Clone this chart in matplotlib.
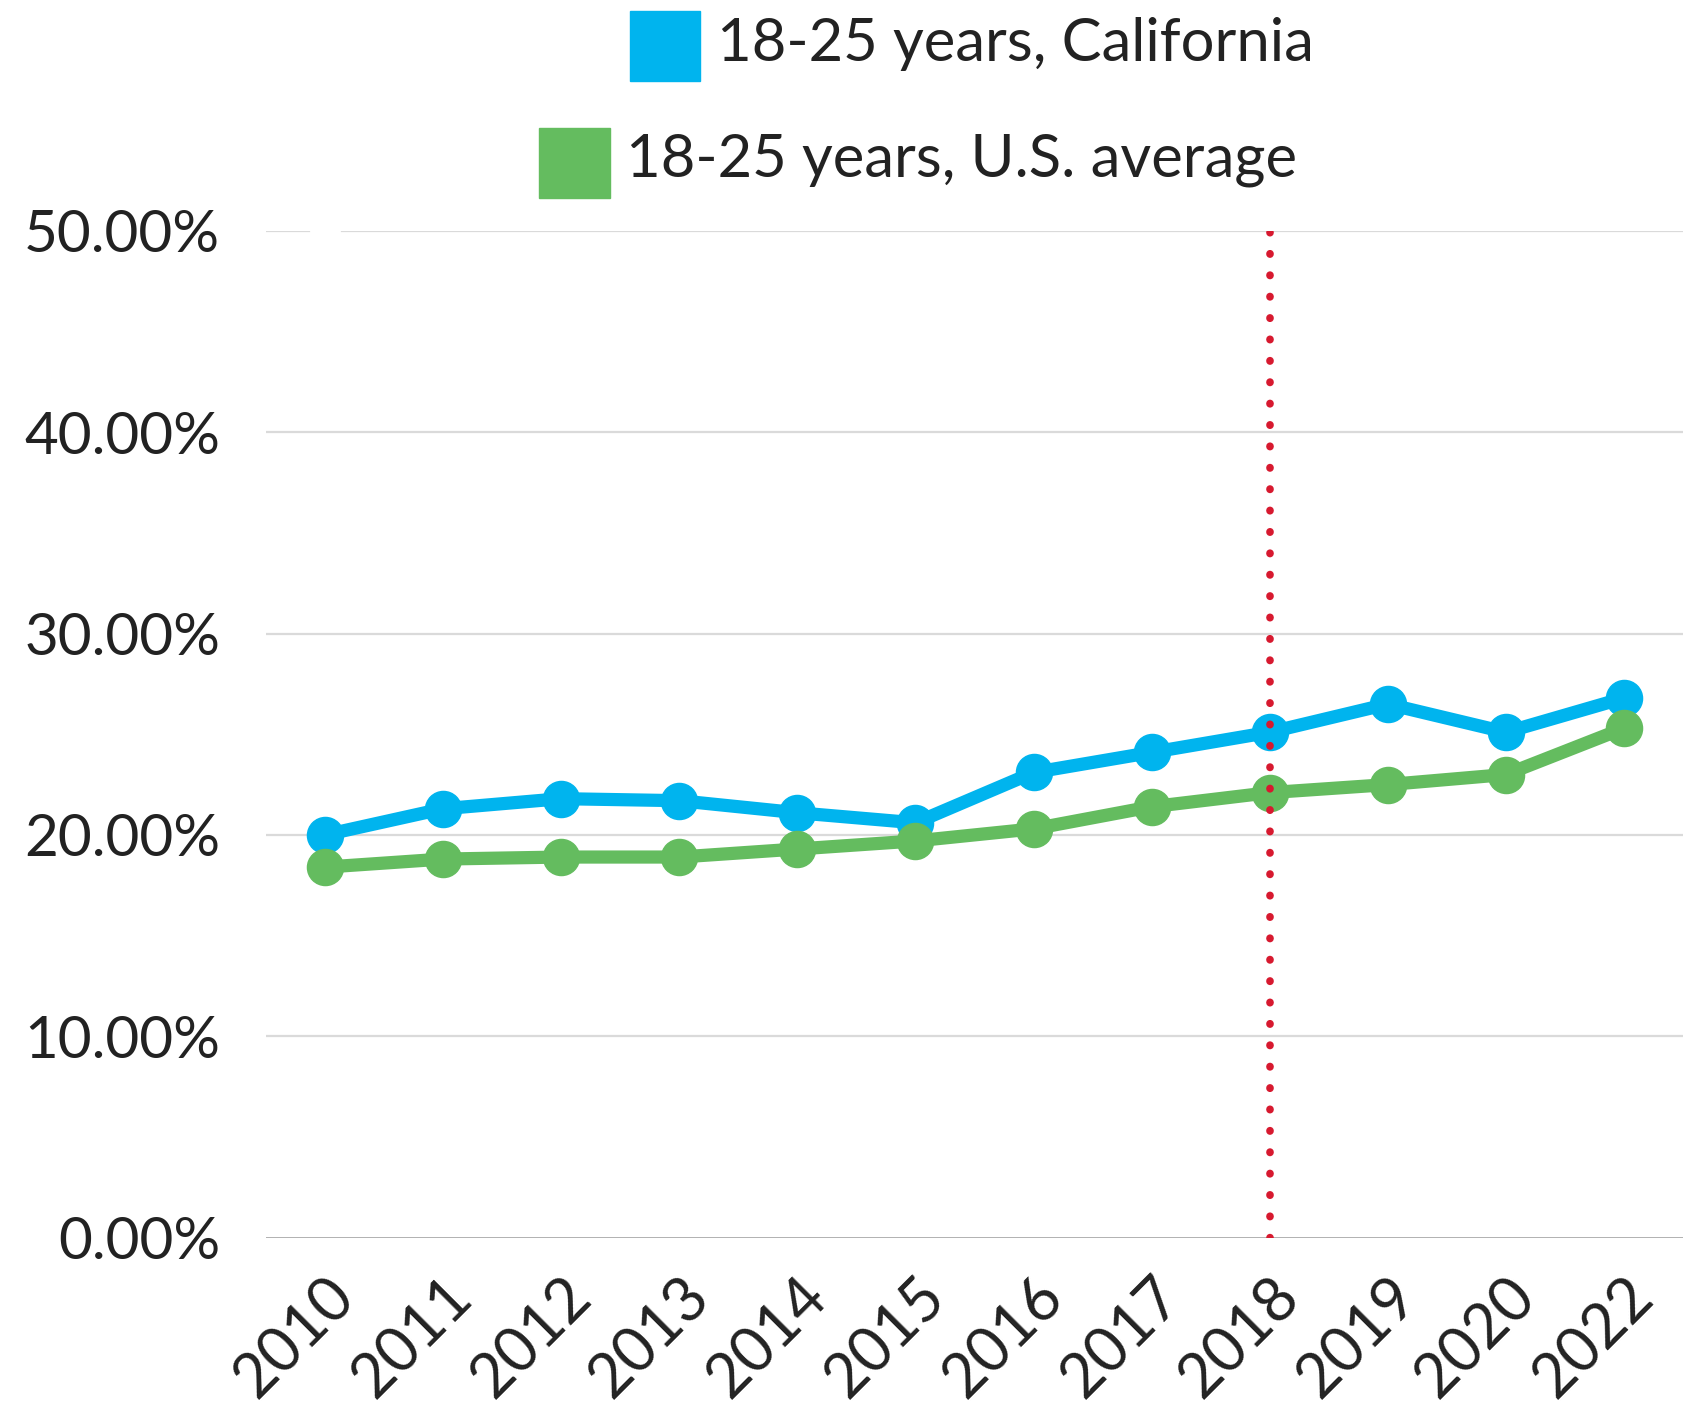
import matplotlib
matplotlib.use("Agg")
from matplotlib import pyplot as plt
from matplotlib.patches import Rectangle

plt.rcParams['font.family'] = ['Lato', 'DejaVu Sans']

years = ['2010', '2011', '2012', '2013', '2014', '2015', '2016', '2017', '2018', '2019', '2020', '2022']
california = [20.0, 21.3, 21.8, 21.7, 21.1, 20.6, 23.1, 24.1, 25.1, 26.5, 25.1, 26.8]
us_average = [18.4, 18.8, 18.9, 18.9, 19.3, 19.7, 20.3, 21.4, 22.1, 22.5, 23.0, 25.3]
series_labels = ['18-25 years, California', '18-25 years, U.S. average']
marker_year = '2018'
yticks = [0, 10, 20, 30, 40, 50]

blue = '#00b4ee'
green = '#64bc5f'
red = '#d7192f'

fig = plt.figure(figsize=(17.08, 14.09), dpi=100)
ax = fig.add_axes([266 / 1708, 1 - 1237.5 / 1409, (1683 - 266) / 1708, (1237.5 - 231) / 1409])

x = list(range(len(years)))

# gridlines (top one has a small gap above the first category)
for v in yticks[1:-1]:
    ax.plot([-0.5, 11.5], [v, v], color='#dadada', lw=1.6, zorder=1)
ax.plot([-0.5, -0.14], [50, 50], color='#dadada', lw=1.6, zorder=1)
ax.plot([0.14, 11.5], [50, 50], color='#dadada', lw=1.6, zorder=1)
ax.plot([-0.5, 11.5], [0, 0], color='#9a9a9a', lw=1.8, zorder=1)

ax.plot(x, california, color=blue, lw=9.5, marker='o', ms=26, zorder=3, solid_joinstyle='round')
ax.plot(x, us_average, color=green, lw=9.5, marker='o', ms=26, zorder=4, solid_joinstyle='round')

xi = years.index(marker_year)
ax.plot([xi, xi], [0, 50], color=red, lw=5.5, linestyle=(0, (0.05, 2.75)),
        dash_capstyle='round', zorder=5)

ax.set_xlim(-0.5, 11.5)
ax.set_ylim(0, 50)
ax.set_yticks(yticks)
ax.set_yticklabels([f'{v:.2f}%' for v in yticks], fontsize=42, color='#222222')
ax.set_xticks(x)
ax.set_xticklabels(years, rotation=45, ha='right', va='top', rotation_mode='anchor',
                   fontsize=44, color='#222222')
ax.tick_params(axis='y', length=0, pad=33)
ax.tick_params(axis='x', length=0, pad=22)
for s in ax.spines.values():
    s.set_visible(False)

# legend drawn by hand
W, H = 1708, 1409
fig.patches.append(Rectangle((630 / W, 1 - 81 / H), 70 / W, 70 / H, transform=fig.transFigure,
                             color=blue, zorder=2))
fig.text(717 / W, 1 - 44 / H, series_labels[0], fontsize=43, va='center', ha='left', color='#222222')
fig.patches.append(Rectangle((539 / W, 1 - 198 / H), 71 / W, 70 / H, transform=fig.transFigure,
                             color=green, zorder=2))
fig.text(626 / W, 1 - 160 / H, series_labels[1], fontsize=43, va='center', ha='left', color='#222222')

fig.savefig('out.png', dpi=100)
